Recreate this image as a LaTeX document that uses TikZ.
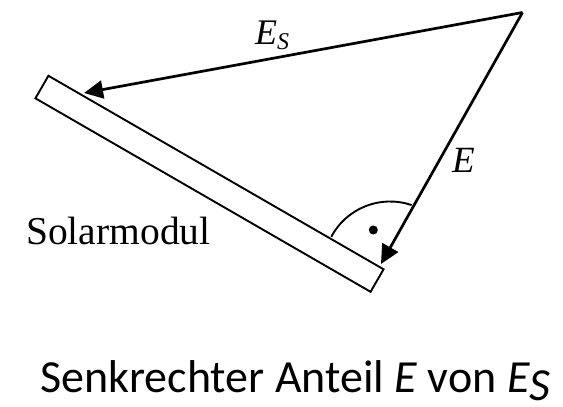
\documentclass[tikz,border=0pt]{standalone}
\usepackage{fontspec}
\setmainfont{Liberation Serif}
\newfontfamily\capfont{Carlito}
\usetikzlibrary{arrows.meta}

\begin{document}
\begin{tikzpicture}[
    x=1pt, y=1pt,
    panel/.style={draw, rectangle, line width=1.9pt, minimum width=387pt, minimum height=26pt, inner sep=0pt, rotate=-30},
    vec/.style={line width=2.7pt, -{Triangle[length=19pt, width=18pt]}},
    lbl/.style={inner sep=0pt, anchor=base west},
    caption/.style={inner sep=0pt, anchor=base west, font=\capfont\fontsize{46}{50}\selectfont},
]
\useasboundingbox (0,0) rectangle (563,407);

% --- panel and points ---
\node[panel] (modul) at (209.5,223.2) {};
\coordinate (sun) at (522.5,394.5);
\coordinate (tipS) at (84,314);
\coordinate (foot) at (381,143);
\coordinate (ra) at (390,139);

% --- vectors ---
\draw[vec] (sun) -- (tipS);
\draw[vec] (sun) -- (foot);

% --- right angle mark ---
\draw[line width=1.9pt] (ra) ++(152:66.5) arc[start angle=152, end angle=71, radius=66.5];
\fill (373.3,177) circle (4.5pt);

% --- labels ---
\node[lbl] (lblES) at (255,362) {\fontsize{36}{40}\selectfont\textit{E}\raisebox{-5pt}{\fontsize{24}{26}\selectfont\textit{S}}};
\node[lbl] (lblE) at (452,234) {\fontsize{37}{40}\selectfont\textit{E}};
\node[lbl] (lblmodul) at (26,162) {\fontsize{39.5}{42}\selectfont Solarmodul};
\node[caption] (cap) at (40,14) {Senkrechter Anteil \textit{E} von \textit{E}\raisebox{-8pt}{\textit{S}}};
\end{tikzpicture}
\end{document}
